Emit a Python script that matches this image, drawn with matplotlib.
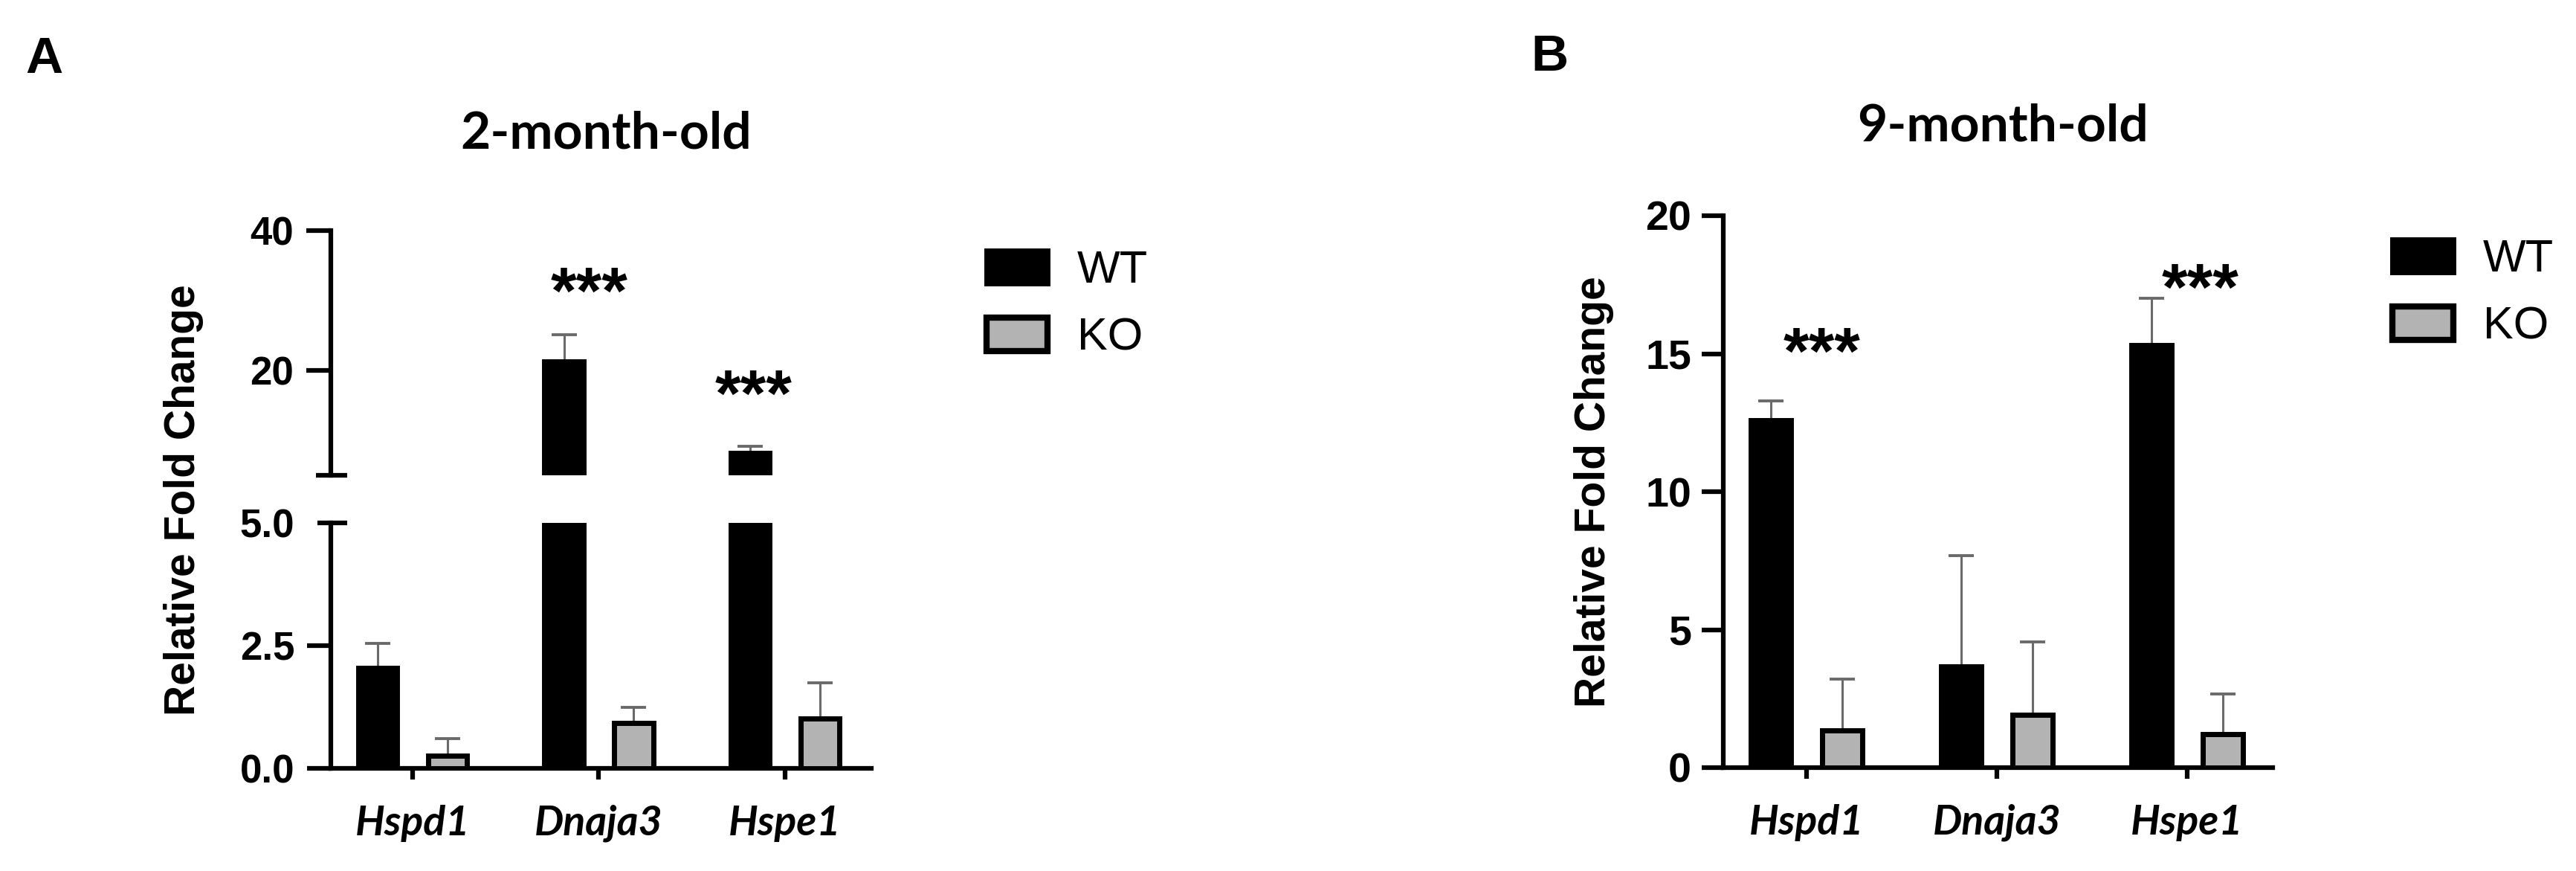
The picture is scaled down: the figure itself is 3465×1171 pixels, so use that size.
import numpy as np
import matplotlib.pyplot as plt
from matplotlib.patches import Patch

genes = ["Hspd1", "Dnaja3", "Hspe1"]
groups = ["WT", "KO"]

# 2-month-old (panel A)
wt_2m = [2.05, 21.3, 8.2]
wt_2m_err = [0.50, 3.8, 1.0]
ko_2m = [0.26, 0.92, 1.01]
ko_2m_err = [0.34, 0.33, 0.74]

# 9-month-old (panel B)
wt_9m = [12.6, 3.67, 15.3]
wt_9m_err = [0.70, 4.0, 1.72]
ko_9m = [1.35, 1.91, 1.21]
ko_9m_err = [1.86, 2.65, 1.46]

# significance marks: (gene position, y)
sig_2m_x = [0.95, 1.83]
sig_2m_y = [28.2, 13.5]
sig_9m_x = [0.08, 2.07]
sig_9m_y = [14.3, 16.6]

W, H = 3466, 1171
ko_grey = "#b3b3b3"
err_col = "#6a6a6a"
bar_w = 0.21
off = 0.1875
edge_lw = 5
spine_lw = 4.5

tick_font = dict(family="Liberation Sans", weight="bold")


def fx(px):
    return px / W


def fy(py):
    return 1 - py / H


def draw_bars(ax, wt, wt_err, ko, ko_err):
    x = np.arange(len(genes))
    ax.bar(x - off, wt, width=bar_w, color="black", edgecolor="black",
           linewidth=edge_lw, zorder=3)
    ax.bar(x + off, ko, width=bar_w, color=ko_grey, edgecolor="black",
           linewidth=edge_lw, zorder=3)
    for xs, v, e in [(x - off, wt, wt_err), (x + off, ko, ko_err)]:
        ax.errorbar(xs, v, yerr=[np.zeros(len(v)), e], fmt="none",
                    ecolor=err_col, elinewidth=2.2, capsize=12, capthick=2.8,
                    zorder=2)


def style_axis(ax, ytick_len):
    for s in ["top", "right"]:
        ax.spines[s].set_visible(False)
    for s in ["left", "bottom"]:
        ax.spines[s].set_linewidth(spine_lw)
    ax.tick_params(axis="y", direction="out", length=ytick_len, width=spine_lw,
                   pad=12, labelsize=38)
    ax.tick_params(axis="x", direction="out", length=11, width=spine_lw,
                   pad=24)
    for lab in ax.get_yticklabels():
        lab.set_fontfamily("Liberation Sans")
        lab.set_fontweight("bold")


fig = plt.figure(figsize=(W / 100, H / 100), dpi=100)

# ---------- panel A: broken axis ----------
axA_lo = fig.add_axes([fx(445), fy(1033), fx(1172 - 445), (1033 - 703) / H])
axA_hi = fig.add_axes([fx(445), fy(639), fx(1172 - 445), (639 - 310) / H])

for ax in (axA_lo, axA_hi):
    draw_bars(ax, wt_2m, wt_2m_err, ko_2m, ko_2m_err)
    ax.set_xlim(-0.439, 2.463)

axA_lo.set_ylim(0, 5)
axA_lo.set_yticks([0, 2.5, 5])
axA_lo.set_yticklabels(["0.0", "2.5", "5.0"])
axA_hi.set_ylim(5, 40)
axA_hi.set_yticks([20, 40])
axA_hi.set_yticklabels(["20", "40"])

style_axis(axA_lo, 23)
style_axis(axA_hi, 24)
axA_hi.spines["bottom"].set_visible(False)
axA_hi.set_xticks([])
axA_lo.yaxis.get_major_ticks()[2].tick1line.set_visible(False)

axA_lo.set_xticks(np.arange(len(genes)))
axA_lo.set_xticklabels(genes, family="Lato", weight="bold", style="italic",
                       fontsize=40)

# break caps
axA_hi.plot([-0.028, 0.03], [0, 0], transform=axA_hi.transAxes, color="black",
            lw=spine_lw, clip_on=False, solid_capstyle="butt")
axA_lo.plot([-0.025, 0.03], [1, 1], transform=axA_lo.transAxes, color="black",
            lw=spine_lw, clip_on=False, solid_capstyle="butt")

for x, y in zip(sig_2m_x, sig_2m_y):
    axA_hi.text(x, y, "***", ha="center", va="baseline", fontsize=64,
                **tick_font)

# ---------- panel B ----------
axB = fig.add_axes([fx(2318), fy(1032), fx(3057 - 2318), (1032 - 290) / H])
draw_bars(axB, wt_9m, wt_9m_err, ko_9m, ko_9m_err)
axB.set_xlim(-0.4375, 2.449)
axB.set_ylim(0, 20)
axB.set_yticks([0, 5, 10, 15, 20])
style_axis(axB, 21)
axB.tick_params(axis="y", labelsize=40, pad=10)
axB.set_xticks(np.arange(len(genes)))
axB.set_xticklabels(genes, family="Lato", weight="bold", style="italic",
                    fontsize=40)

for x, y in zip(sig_9m_x, sig_9m_y):
    axB.text(x, y, "***", ha="center", va="baseline", fontsize=64,
             **tick_font)

# ---------- titles, labels, legends ----------
fig.text(fx(34), fy(80), "A", fontsize=50, ha="left", va="center", **tick_font)
fig.text(fx(2059), fy(77), "B", fontsize=50, ha="left", va="center", **tick_font)

fig.text(fx(815), fy(180), "2-month-old", fontsize=50, ha="center", va="center",
         family="Lato", weight="bold")
fig.text(fx(2694), fy(170), "9-month-old", fontsize=50, ha="center", va="center",
         family="Lato", weight="bold")

fig.text(fx(247), fy(672), "Relative Fold Change", rotation=90, fontsize=41,
         ha="center", va="center", **tick_font)
fig.text(fx(2144), fy(661), "Relative Fold Change", rotation=90, fontsize=41,
         ha="center", va="center", **tick_font)

handles = [Patch(facecolor="black", edgecolor="black", linewidth=5),
           Patch(facecolor=ko_grey, edgecolor="black", linewidth=6)]
for ax, lx, ly in [(axA_lo, 1327, 410), (axB, 3218, 395)]:
    ax.legend(handles, groups, loc="center left",
              bbox_to_anchor=(fx(lx), fy(ly)), bbox_transform=fig.transFigure,
              frameon=False, handlelength=1.35, handleheight=0.75,
              handletextpad=0.65, labelspacing=0.55, borderpad=0,
              borderaxespad=0, prop={"family": "Liberation Sans", "size": 44})

fig.savefig("out.png", dpi=100, facecolor="white")
